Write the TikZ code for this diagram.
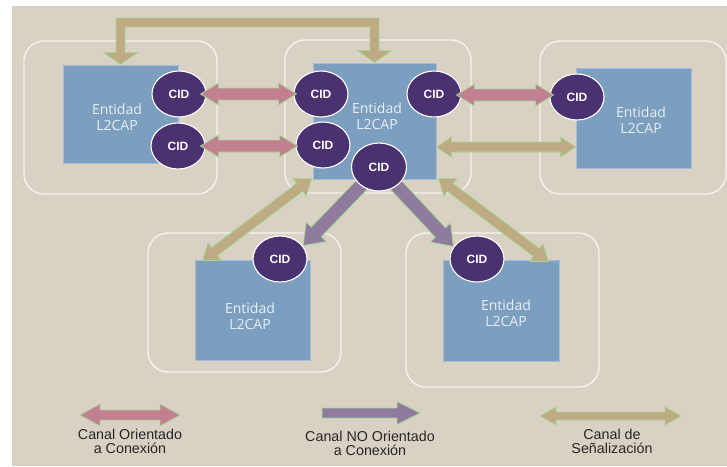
\documentclass[tikz,border=0pt]{standalone}
\usepackage{fontspec}
\setmainfont{Liberation Sans}
\newfontfamily\entfont{Open Sans}
\usetikzlibrary{calc,shapes.geometric}

\pgfdeclarelayer{front}
\pgfsetlayers{main,front}

\definecolor{bgbeige}{HTML}{D9D1C3}
\definecolor{entblue}{HTML}{7C9FBF}
\definecolor{entedge}{HTML}{A3BDD4}
\definecolor{enttext}{HTML}{E8EEF5}
\definecolor{cidfill}{HTML}{4A3271}
\definecolor{boxline}{HTML}{F6F3EE}
\definecolor{arrline}{HTML}{A6D893}
\definecolor{conpink}{HTML}{C17F8F}
\definecolor{nocpurple}{HTML}{8E7B9E}
\definecolor{sigtan}{HTML}{BEAA83}

\tikzset{
  hostbox/.style={draw=boxline, line width=1.4pt, rounded corners=20pt,
    inner sep=0pt, minimum width=#1},
  entity/.style={fill=entblue, draw=entedge, line width=0.8pt, inner sep=0pt},
  enttext/.style={text=enttext, align=center, inner sep=0pt,
    font=\entfont\fontsize{14}{16}\selectfont},
  cid/.style={ellipse, fill=cidfill, draw=white, line width=1.1pt, inner sep=0pt,
    minimum width=54pt, minimum height=46pt, text=white,
    font=\bfseries\fontsize{12}{12}\selectfont},
  pinkarr/.style={fill=conpink, draw=arrline, line width=0.8pt, line join=miter},
  purparr/.style={fill=nocpurple, draw=arrline, line width=0.8pt, line join=miter},
  tanarr/.style={fill=sigtan, draw=arrline, line width=0.8pt, line join=miter},
  legtext/.style={align=center, inner sep=0pt, text=black!85,
    font=\fontsize{14.3}{14}\selectfont},
}

% Block arrow with one head: style, from, to, shaft half width, head half width, head length
\newcommand\blockone[6]{%
  \path[#1] let \p1=(#2), \p2=(#3),
    \n1={atan2(\y2-\y1,\x2-\x1)}, \n2={veclen(\x2-\x1,\y2-\y1)} in
    [shift={(\p1)}, rotate=\n1]
    (0pt,-#4pt) -- ({\n2-#6pt},-#4pt) -- ({\n2-#6pt},-#5pt) -- (\n2,0pt)
    -- ({\n2-#6pt},#5pt) -- ({\n2-#6pt},#4pt) -- (0pt,#4pt) -- cycle;}

% Block arrow with a head at each end
\newcommand\blocktwo[6]{%
  \path[#1] let \p1=(#2), \p2=(#3),
    \n1={atan2(\y2-\y1,\x2-\x1)}, \n2={veclen(\x2-\x1,\y2-\y1)} in
    [shift={(\p1)}, rotate=\n1]
    (0pt,0pt) -- (#6pt,#5pt) -- (#6pt,#4pt) -- ({\n2-#6pt},#4pt) -- ({\n2-#6pt},#5pt)
    -- (\n2,0pt) -- ({\n2-#6pt},-#5pt) -- ({\n2-#6pt},-#4pt) -- (#6pt,-#4pt)
    -- (#6pt,-#5pt) -- cycle;}

\begin{document}
\begin{tikzpicture}[x=1pt, y=-1pt]
  % page and backdrop
  \fill[white] (0,0) rectangle (727,466);
  \fill[bgbeige] (12,6) rectangle (727,466);
  \useasboundingbox (0,0) rectangle (727,466);

  % hosts
  \node[hostbox=193pt, minimum height=153pt] (B1) at (120.5,117.5) {};
  \node[hostbox=186pt, minimum height=153pt] (B2) at (378,116.5) {};
  \node[hostbox=186pt, minimum height=153pt] (B3) at (633,117.5) {};
  \node[hostbox=193pt, minimum height=139pt] (B4) at (244.5,302.5) {};
  \node[hostbox=193pt, minimum height=154pt] (B5) at (502.5,310) {};

  % L2CAP entities
  \node[entity, minimum width=115pt, minimum height=98pt]  (R1) at (120.5,114) {};
  \node[entity, minimum width=123pt, minimum height=116pt] (R2) at (374.5,121) {};
  \node[entity, minimum width=115pt, minimum height=100pt] (R3) at (633.5,118) {};
  \node[entity, minimum width=115pt, minimum height=100pt] (R4) at (252.5,310) {};
  \node[entity, minimum width=116pt, minimum height=101pt] (R5) at (501,310.5) {};

  \node[enttext] (T1) at (117,117) {Entidad\\L2CAP};
  \node[enttext] (T2) at (377,116) {Entidad\\L2CAP};
  \node[enttext] (T3) at (641,120) {Entidad\\L2CAP};
  \node[enttext] (T4) at (250,316) {Entidad\\L2CAP};
  \node[enttext] (T5) at (506,313) {Entidad\\L2CAP};

  % channel endpoints
  \node[cid] (C1a) at (179,94) {CID};
  \node[cid] (C1b) at (178,146) {CID};
  \node[cid] (C2a) at (321,94) {CID};
  \node[cid] (C2b) at (323,145) {CID};
  \node[cid] (C2d) at (434,94) {CID};
  \node[cid] (C3) at (577,97) {CID};
  \node[cid] (C4) at (280,259) {CID};
  \node[cid] (C5) at (477,259) {CID};
  \begin{pgfonlayer}{front}
    \node[cid, minimum width=55pt, minimum height=48pt] (C2c) at (379,167) {CID};
  \end{pgfonlayer}

  % signalling channels
  \path[tanarr] let \p1=(R1.north), \p2=(R2.north) in
    (\x1-4.5pt,\y1+12pt) -- (\x1-4.5pt,-18pt) -- (\x2+4.5pt,-18pt)
    -- (\x2+4.5pt,\y2+12pt) -- (\x2+17pt,\y2+12pt) -- (\x2,\y2)
    -- (\x2-17pt,\y2+12pt) -- (\x2-4.5pt,\y2+12pt) -- (\x2-4.5pt,-27pt)
    -- (\x1+4.5pt,-27pt) -- (\x1+4.5pt,\y1+12pt) -- (\x1+17pt,\y1+12pt)
    -- (\x1,\y1) -- (\x1-17pt,\y1+12pt) -- cycle;
  \blocktwo{tanarr}{$(R2.east)+(0,26)$}{$(R3.west)+(0,29)$}{5}{10}{15}
  \blocktwo{tanarr}{$(R2.south west)+(-1,-1)$}{$(R4.north west)+(8,1)$}{5}{11}{15}
  \blocktwo{tanarr}{$(R2.south east)+(2,-1)$}{$(R5.north east)+(-11,2)$}{5}{11}{15}

  % connection-oriented channels
  \blocktwo{pinkarr}{$(C1a.east)+(-6,0)$}{$(C2a.west)+(3,0)$}{6}{11}{18}
  \blocktwo{pinkarr}{$(C1b.east)+(-5,0)$}{$(C2b.west)+(2,1)$}{6}{11}{18}
  \blocktwo{pinkarr}{$(C2d.east)+(-5,1)$}{$(C3.west)+(4,-2)$}{6}{11}{18}

  % connectionless channels
  \blockone{purparr}{C2c.center}{C4.30}{7}{14}{19}
  \blockone{purparr}{C2c.center}{C5.152}{7}{14}{19}

  % legend
  \coordinate (LA1) at (80,415);  \coordinate (LA2) at (180,415);
  \coordinate (LB1) at (322,413); \coordinate (LB2) at (420,413);
  \coordinate (LC1) at (540,416); \coordinate (LC2) at (681,416);
  \blocktwo{pinkarr}{LA1}{LA2}{5}{11}{20}
  \blockone{purparr}{LB1}{LB2}{5}{11.5}{23}
  \blocktwo{tanarr}{LC1}{LC2}{4}{9}{16}
  \node[legtext] (L1) at (130,441) {Canal Orientado\\a Conexión};
  \node[legtext] (L2) at (370,443) {Canal NO Orientado\\a Conexión};
  \node[legtext] (L3) at (612,441) {Canal de\\Señalización};
\end{tikzpicture}
\end{document}
